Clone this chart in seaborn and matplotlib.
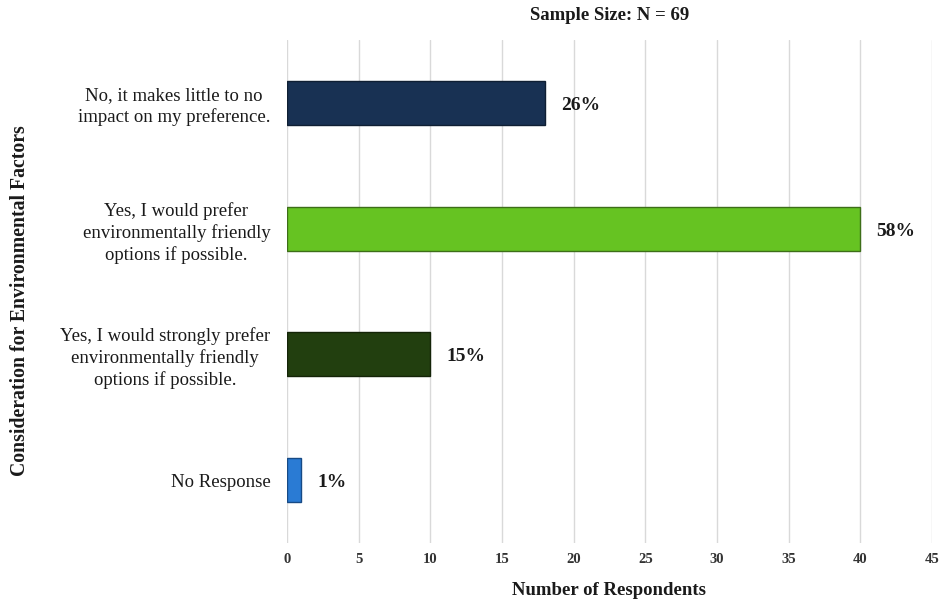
import matplotlib
matplotlib.use("Agg")
import matplotlib.pyplot as plt
import seaborn as sns
import pandas as pd

categories = [
    "No, it makes little to no\nimpact on my preference.",
    "Yes, I would prefer\nenvironmentally friendly\noptions if possible.",
    "Yes, I would strongly prefer\nenvironmentally friendly\noptions if possible.",
    "No Response",
]
counts = [18, 40, 10, 1]
pct_labels = ["26%", "58%", "15%", "1%"]
bar_colors = ["#183153", "#66c322", "#223f0f", "#2a7bd4"]
edge_colors = ["#0f1f33", "#3d6e18", "#142408", "#174a85"]
x_ticks = [0, 5, 10, 15, 20, 25, 30, 35, 40, 45]

sns.set_theme(style="white")
plt.rcParams["font.family"] = ["Liberation Serif", "DejaVu Serif"]

df = pd.DataFrame({"category": categories, "count": counts})

fig = plt.figure(figsize=(9.45, 6.04), dpi=100)
ax = fig.add_axes([0.3037, 0.101, 0.6825, 0.833])

sns.barplot(data=df, y="category", x="count", hue="category",
            palette=bar_colors, orient="h", width=0.35, saturation=1,
            legend=False, ax=ax, zorder=3)

for patch, ec in zip(ax.patches, edge_colors):
    patch.set_edgecolor(ec)
    patch.set_linewidth(1.0)

for i, (v, lab) in enumerate(zip(counts, pct_labels)):
    ax.text(v + 1.1, i + 0.02, lab, va="center", ha="left",
            fontsize=14, fontweight="bold", color="#1a1a1a")

ax.set_xlim(0, 45)
ax.set_ylim(3.5, -0.5)
ax.set_xticks(x_ticks)
ax.set_xticklabels([str(t) for t in x_ticks], fontsize=10.5, fontweight="bold",
                   color="#333333")
ax.tick_params(axis="x", length=0, pad=7)
ax.tick_params(axis="y", length=0, pad=12, labelsize=13.5, labelcolor="#1a1a1a")
for lbl in ax.get_yticklabels():
    lbl.set_horizontalalignment("right")
    lbl.set_multialignment("center")
    lbl.set_linespacing(1.3)

ax.xaxis.grid(True, color="#d9d9d9", linewidth=1.0, zorder=0)
ax.yaxis.grid(False)
for s in ax.spines.values():
    s.set_visible(False)

ax.set_xlabel("Number of Respondents", fontsize=13.5, fontweight="bold",
              labelpad=12, color="#1a1a1a")
ax.set_ylabel("Consideration for Environmental Factors", fontsize=14.2,
              fontweight="bold", color="#1a1a1a")
ax.yaxis.set_label_coords(-0.398, 0.482)
ax.set_title("Sample Size: N = 69", fontsize=13.5, fontweight="bold",
             pad=14, color="#1a1a1a")

fig.savefig("out.png", dpi=100)
